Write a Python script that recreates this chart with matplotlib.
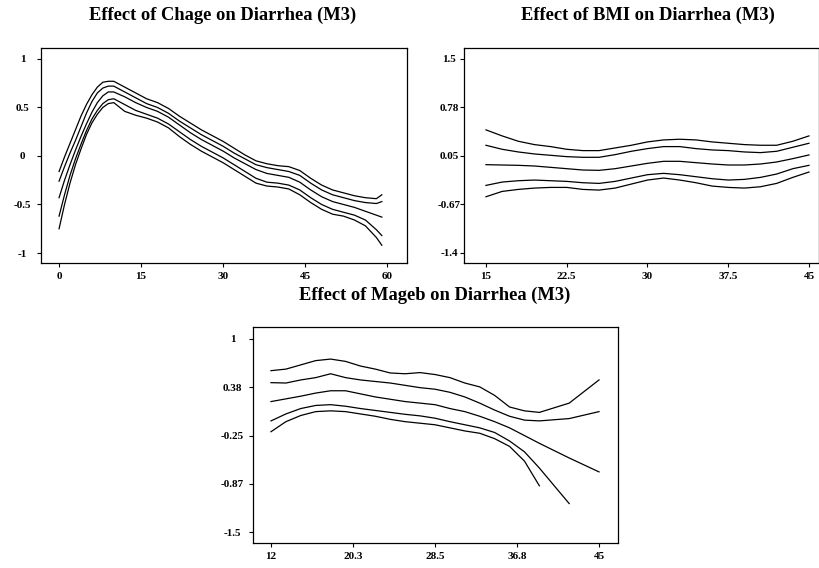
import matplotlib
matplotlib.use("Agg")
import matplotlib.pyplot as plt

plt.rcParams['font.family'] = ['Liberation Serif', 'DejaVu Serif']
plt.rcParams['font.weight'] = 'bold'
plt.rcParams['axes.unicode_minus'] = False

# Effect of Chage (5 curves, top to bottom)
chage_x = [0, 1, 2, 3, 4, 5, 6, 7, 8, 9, 10, 12, 14, 16, 18, 20, 22, 24, 26, 28, 30,
           32, 34, 36, 38, 40, 42, 44, 46, 48, 50, 52, 54, 56, 58, 59]
chage_1 = [-0.16, -0.01, 0.13, 0.27, 0.41, 0.53, 0.63, 0.71, 0.76, 0.77, 0.77, 0.71, 0.65, 0.59, 0.55,
           0.49, 0.41, 0.34, 0.27, 0.21, 0.15, 0.08, 0.01, -0.05, -0.08, -0.10, -0.11, -0.15, -0.23,
           -0.30, -0.35, -0.38, -0.41, -0.43, -0.44, -0.40]
chage_2 = [-0.26, -0.11, 0.03, 0.16, 0.30, 0.44, 0.56, 0.65, 0.70, 0.72, 0.72, 0.66, 0.60, 0.54, 0.50,
           0.44, 0.36, 0.29, 0.22, 0.16, 0.10, 0.03, -0.03, -0.09, -0.12, -0.14, -0.16, -0.20, -0.28,
           -0.35, -0.40, -0.43, -0.46, -0.48, -0.49, -0.47]
chage_3 = [-0.43, -0.25, -0.09, 0.06, 0.20, 0.33, 0.45, 0.55, 0.62, 0.66, 0.66, 0.61, 0.55, 0.50, 0.46,
           0.40, 0.32, 0.24, 0.17, 0.11, 0.05, -0.02, -0.08, -0.14, -0.18, -0.20, -0.22, -0.27, -0.35,
           -0.42, -0.47, -0.50, -0.53, -0.57, -0.61, -0.63]
chage_4 = [-0.62, -0.40, -0.20, -0.03, 0.12, 0.26, 0.38, 0.47, 0.54, 0.58, 0.59, 0.53, 0.47, 0.43, 0.39,
           0.33, 0.25, 0.17, 0.10, 0.04, -0.02, -0.09, -0.16, -0.23, -0.27, -0.28, -0.30, -0.35, -0.43,
           -0.50, -0.55, -0.58, -0.61, -0.66, -0.76, -0.82]
chage_5 = [-0.75, -0.50, -0.28, -0.09, 0.07, 0.22, 0.34, 0.43, 0.50, 0.54, 0.55, 0.46, 0.42, 0.39, 0.35,
           0.29, 0.20, 0.12, 0.05, -0.01, -0.07, -0.14, -0.21, -0.28, -0.31, -0.32, -0.34, -0.40, -0.48,
           -0.55, -0.60, -0.62, -0.66, -0.72, -0.84, -0.92]

# Effect of BMI
bmi_x = [15, 16.5, 18, 19.5, 21, 22.5, 24, 25.5, 27, 28.5, 30, 31.5, 33, 34.5, 36, 37.5, 39, 40.5, 42, 43.5, 45]
bmi_1 = [0.44, 0.35, 0.27, 0.22, 0.19, 0.15, 0.13, 0.13, 0.17, 0.21, 0.26, 0.29, 0.30, 0.29, 0.26,
         0.24, 0.22, 0.21, 0.21, 0.27, 0.35]
bmi_2 = [0.21, 0.15, 0.11, 0.08, 0.06, 0.04, 0.03, 0.03, 0.07, 0.12, 0.16, 0.19, 0.19, 0.16, 0.14,
         0.13, 0.11, 0.10, 0.12, 0.18, 0.24]
bmi_3 = [-0.08, -0.085, -0.09, -0.10, -0.12, -0.14, -0.16, -0.165, -0.14, -0.10, -0.06, -0.03, -0.03,
         -0.05, -0.07, -0.085, -0.085, -0.07, -0.04, 0.01, 0.065]
bmi_4 = [-0.39, -0.34, -0.32, -0.31, -0.32, -0.33, -0.35, -0.36, -0.33, -0.28, -0.23, -0.21, -0.23,
         -0.26, -0.29, -0.31, -0.30, -0.27, -0.22, -0.14, -0.09]
bmi_5 = [-0.56, -0.48, -0.45, -0.43, -0.42, -0.42, -0.45, -0.46, -0.43, -0.37, -0.31, -0.28, -0.31,
         -0.35, -0.40, -0.42, -0.43, -0.41, -0.36, -0.27, -0.19]

# Effect of Mageb (lower curves stop early)
mageb_x = [12, 13.5, 15, 16.5, 18, 19.5, 21, 22.5, 24, 25.5, 27, 28.5, 30, 31.5, 33, 34.5, 36, 37.5, 39, 42, 45]
mageb_1 = [0.59, 0.61, 0.665, 0.72, 0.74, 0.71, 0.65, 0.61, 0.56, 0.55, 0.565, 0.54, 0.50, 0.43, 0.38,
           0.27, 0.12, 0.07, 0.05, 0.17, 0.47]
mageb_2 = [0.435, 0.43, 0.47, 0.50, 0.55, 0.50, 0.47, 0.45, 0.43, 0.40, 0.37, 0.35, 0.31, 0.25, 0.17,
           0.08, 0.00, -0.05, -0.06, -0.03, 0.06]
mageb_3 = [0.19, 0.225, 0.26, 0.30, 0.33, 0.33, 0.29, 0.25, 0.22, 0.19, 0.17, 0.15, 0.10, 0.06, 0.00,
           -0.07, -0.15, -0.25, -0.35, -0.54, -0.72]
mageb_4 = [-0.06, 0.03, 0.10, 0.14, 0.15, 0.13, 0.10, 0.075, 0.05, 0.025, 0.005, -0.025, -0.07, -0.11,
           -0.15, -0.21, -0.32, -0.46, -0.67, -1.13]
mageb_5 = [-0.20, -0.07, 0.01, 0.06, 0.07, 0.06, 0.03, 0.00, -0.04, -0.07, -0.09, -0.11, -0.15, -0.19,
           -0.22, -0.29, -0.39, -0.58, -0.90]

chage_xticks = [0, 15, 30, 45, 60]
chage_yticks = [1, 0.5, 0, -0.5, -1]
chage_ylabels = ['1', '0.5', '0', '-0.5', '-1']
bmi_xticks = [15, 22.5, 30, 37.5, 45]
bmi_yticks = [1.5, 0.775, 0.05, -0.675, -1.4]
bmi_ylabels = ['1.5', '0.78', '0.05', '-0.67', '-1.4']
mageb_xticks = [12, 20.25, 28.5, 36.75, 45]
mageb_xlabels = ['12', '20.3', '28.5', '36.8', '45']
mageb_yticks = [1, 0.375, -0.25, -0.875, -1.5]
mageb_ylabels = ['1', '0.38', '-0.25', '-0.87', '-1.5']

W, H = 820, 568
fig = plt.figure(figsize=(W / 100, H / 100), dpi=100)


def px_axes(left, top, right, bottom):
    return fig.add_axes([left / W, 1 - bottom / H, (right - left) / W, (bottom - top) / H])


def style(ax, xticks, xlabels, yticks, ylabels, ypad):
    ax.set_xticks(xticks)
    ax.set_xticklabels(xlabels)
    ax.set_yticks(yticks)
    ax.set_yticklabels(ylabels, ha='center')
    ax.tick_params(axis='both', direction='out', length=3.2, width=0.8, labelsize=8)
    ax.tick_params(axis='x', pad=3.5)
    ax.tick_params(axis='y', pad=ypad)
    for lab in ax.get_xticklabels() + ax.get_yticklabels():
        lab.set_fontweight('bold')
    for s in ax.spines.values():
        s.set_linewidth(0.9)


ax1 = px_axes(41, 48, 407, 263)
for ys in [chage_1, chage_2, chage_3, chage_4, chage_5]:
    ax1.plot(chage_x, ys, color='black', lw=0.9)
ax1.set_xlim(-3.3, 63.6)
ax1.set_ylim(-1.103, 1.113)
style(ax1, chage_xticks, [str(t) for t in chage_xticks], chage_yticks, chage_ylabels, 10)

ax2 = px_axes(464, 48, 819, 263)
for ys in [bmi_1, bmi_2, bmi_3, bmi_4, bmi_5]:
    ax2.plot(bmi_x, ys, color='black', lw=0.9)
ax2.set_xlim(12.96, 45.93)
ax2.set_ylim(-1.55, 1.664)
style(ax2, bmi_xticks, ['15', '22.5', '30', '37.5', '45'], bmi_yticks, bmi_ylabels, 7.5)

ax3 = px_axes(253, 327, 618, 543)
mageb_lines = [mageb_1, mageb_2, mageb_3, mageb_4, mageb_5]
for ys in mageb_lines:
    ax3.plot(mageb_x[:len(ys)], ys, color='black', lw=0.9)
ax3.set_xlim(10.19, 46.91)
ax3.set_ylim(-1.64, 1.155)
style(ax3, mageb_xticks, mageb_xlabels, mageb_yticks, mageb_ylabels, 11.5)

fig.text(222.5 / W, 1 - 15 / H, 'Effect of Chage on Diarrhea (M3)', ha='center', va='center',
         fontsize=13.3, fontweight='bold')
fig.text(648 / W, 1 - 15 / H, 'Effect of BMI on Diarrhea (M3)', ha='center', va='center',
         fontsize=13.3, fontweight='bold')
fig.text(435 / W, 1 - 295 / H, 'Effect of Mageb on Diarrhea (M3)', ha='center', va='center',
         fontsize=13.3, fontweight='bold')

fig.savefig('out.png', dpi=100)
